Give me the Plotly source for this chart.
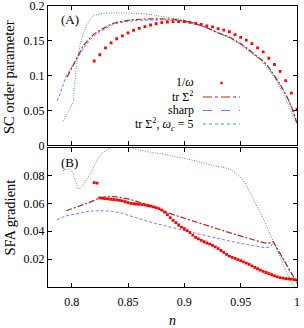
import plotly.graph_objects as go
from plotly.subplots import make_subplots

# ---------------- data: panel A (SC order parameter) ----------------
nA_inv = [0.820, 0.825, 0.830, 0.835, 0.840, 0.845, 0.850, 0.855, 0.860, 0.865,
          0.870, 0.875, 0.880, 0.885, 0.890, 0.895, 0.900, 0.905, 0.910, 0.915,
          0.920, 0.925, 0.930, 0.935, 0.940, 0.945, 0.950, 0.955, 0.960, 0.965,
          0.970, 0.975, 0.980, 0.985, 0.990, 0.995, 1.000]
sc_inv = [0.121, 0.130, 0.140, 0.147, 0.153, 0.157, 0.1615, 0.165, 0.168, 0.1705,
          0.1727, 0.1745, 0.176, 0.177, 0.1775, 0.1777, 0.1775, 0.1765, 0.175, 0.1735,
          0.1715, 0.170, 0.1675, 0.1655, 0.163, 0.159, 0.155, 0.151, 0.146, 0.140,
          0.134, 0.125, 0.116, 0.106, 0.093, 0.075, 0.052]

nA_tr = [0.796, 0.800, 0.805, 0.810, 0.815, 0.820, 0.825, 0.830, 0.835, 0.840,
         0.845, 0.850, 0.855, 0.860, 0.870, 0.880, 0.890, 0.900, 0.910, 0.920,
         0.925, 0.930, 0.940, 0.950, 0.955, 0.960, 0.970, 0.975, 0.980, 0.985,
         0.990, 0.995, 1.000]
sc_tr = [0.098, 0.111, 0.128, 0.142, 0.152, 0.160, 0.165, 0.170, 0.174, 0.1765,
         0.1785, 0.1795, 0.1805, 0.181, 0.1815, 0.1815, 0.181, 0.1785, 0.1745, 0.169,
         0.165, 0.1615, 0.1555, 0.146, 0.140, 0.134, 0.121, 0.112, 0.1005, 0.0875,
         0.0735, 0.056, 0.032]

nA_sharp = [0.787, 0.790, 0.795, 0.800, 0.805, 0.810, 0.815, 0.820, 0.825, 0.830,
            0.835, 0.840, 0.850, 0.860, 0.870, 0.880, 0.890, 0.900, 0.910, 0.920,
            0.930, 0.940, 0.950, 0.960, 0.970, 0.975, 0.980, 0.985, 0.990, 0.995,
            1.000]
sc_sharp = [0.064, 0.075, 0.099, 0.112, 0.125, 0.138, 0.149, 0.157, 0.163, 0.168,
            0.172, 0.175, 0.178, 0.1795, 0.180, 0.180, 0.1795, 0.1778, 0.174, 0.1685,
            0.1612, 0.1548, 0.1452, 0.1332, 0.120, 0.111, 0.0995, 0.0865, 0.0725, 0.055,
            0.031]

nA_wc5 = [0.7923, 0.797, 0.8005, 0.8015, 0.8025, 0.804, 0.806, 0.808, 0.811, 0.814,
          0.817, 0.820, 0.825, 0.832, 0.850, 0.870, 0.880, 0.890, 0.900, 0.910,
          0.920, 0.930, 0.940, 0.950, 0.960, 0.970, 0.980, 0.985, 0.990, 0.995,
          1.000]
sc_wc5 = [0.0345, 0.048, 0.058, 0.062, 0.085, 0.110, 0.132, 0.148, 0.163, 0.175,
          0.182, 0.187, 0.189, 0.190, 0.190, 0.188, 0.185, 0.182, 0.180, 0.175,
          0.169, 0.1615, 0.154, 0.1445, 0.132, 0.118, 0.097, 0.083, 0.067, 0.048,
          0.030]

# ---------------- data: panel B (SFA gradient) ----------------
nB_inv = [0.8200, 0.8225,
          0.8250, 0.8275, 0.8300, 0.8325, 0.8350, 0.8375, 0.8400, 0.8425, 0.8450, 0.8475,
          0.8500, 0.8525, 0.8550, 0.8575, 0.8600, 0.8625, 0.8650, 0.8675, 0.8700, 0.8725,
          0.8750, 0.8775, 0.8800, 0.8825, 0.8850, 0.8875, 0.8900, 0.8925, 0.8950, 0.8975,
          0.9000, 0.9025, 0.9050, 0.9075, 0.9100, 0.9125, 0.9150, 0.9175, 0.9200, 0.9225,
          0.9250, 0.9275, 0.9300, 0.9325, 0.9350, 0.9375, 0.9400, 0.9425, 0.9450, 0.9475,
          0.9500, 0.9525, 0.9550, 0.9575, 0.9600, 0.9625, 0.9650, 0.9675, 0.9700, 0.9725,
          0.9750, 0.9775, 0.9800, 0.9825, 0.9850, 0.9875, 0.9900, 0.9925, 0.9950, 0.9975,
          1.0000]
gr_inv = [0.0750, 0.0745,
          0.0640, 0.0636, 0.0634, 0.0632, 0.0630, 0.0628, 0.0626, 0.0622, 0.0618, 0.0612,
          0.0605, 0.0601, 0.0598, 0.0596, 0.0594, 0.0592, 0.0589, 0.0585, 0.0580, 0.0575,
          0.0570, 0.0562, 0.0552, 0.0538, 0.0520, 0.0498, 0.0478, 0.0462, 0.0445, 0.0430,
          0.0418, 0.0405, 0.0390, 0.0372, 0.0356, 0.0345, 0.0335, 0.0325, 0.0316, 0.0308,
          0.0299, 0.0288, 0.0276, 0.0262, 0.0248, 0.0234, 0.0222, 0.0213, 0.0205, 0.0197,
          0.0189, 0.0180, 0.0172, 0.0162, 0.0152, 0.0141, 0.0131, 0.0121, 0.0112, 0.0104,
          0.0096, 0.0088, 0.0080, 0.0073, 0.0067, 0.0063, 0.0060, 0.0058, 0.0056, 0.0053,
          0.0050]

nB_tr = [0.7952, 0.800, 0.805, 0.810, 0.815, 0.820, 0.825, 0.830, 0.835, 0.840,
         0.845, 0.850, 0.855, 0.860, 0.865, 0.870, 0.875, 0.880, 0.885, 0.890,
         0.895, 0.900, 0.905, 0.910, 0.915, 0.920, 0.925, 0.930, 0.935, 0.940,
         0.945, 0.950, 0.955, 0.960, 0.965, 0.970, 0.974, 0.977, 0.979, 0.985,
         0.990, 0.995, 1.000]
gr_tr = [0.0547, 0.0560, 0.0573, 0.0588, 0.0605, 0.0622, 0.0640, 0.0647, 0.0650, 0.0647,
         0.0642, 0.0632, 0.0622, 0.0610, 0.0598, 0.0583, 0.0568, 0.0550, 0.0535, 0.0520,
         0.0506, 0.0493, 0.0480, 0.0468, 0.0455, 0.0442, 0.0428, 0.0416, 0.0404, 0.0390,
         0.0378, 0.0366, 0.0354, 0.0341, 0.0329, 0.0318, 0.0313, 0.0318, 0.0325, 0.0240,
         0.0170, 0.0095, 0.0030]

nB_sharp = [0.787, 0.790, 0.795, 0.800, 0.805, 0.810, 0.815, 0.820, 0.825, 0.830,
            0.835, 0.840, 0.845, 0.850, 0.855, 0.860, 0.865, 0.870, 0.875, 0.880,
            0.885, 0.890, 0.895, 0.900, 0.905, 0.910, 0.920, 0.930, 0.940, 0.950,
            0.960, 0.965, 0.970, 0.976, 0.979, 0.985, 0.990, 0.995, 1.000]
gr_sharp = [0.0482, 0.0495, 0.0510, 0.0518, 0.0528, 0.0537, 0.0543, 0.0547, 0.0548, 0.0547,
            0.0544, 0.0538, 0.0530, 0.0515, 0.0502, 0.0488, 0.0477, 0.0466, 0.0455, 0.0446,
            0.0436, 0.0426, 0.0416, 0.0406, 0.0396, 0.0386, 0.0366, 0.0348, 0.0330, 0.0313,
            0.0297, 0.0290, 0.0284, 0.0285, 0.0320, 0.0235, 0.0165, 0.0090, 0.0025]

nB_wc5 = [0.7923, 0.7967, 0.799, 0.801, 0.803, 0.8055, 0.808, 0.810, 0.813, 0.817,
          0.820, 0.8232, 0.827, 0.832, 0.838, 0.845, 0.852, 0.857, 0.865, 0.871,
          0.881, 0.890, 0.900, 0.910, 0.920, 0.926, 0.933, 0.940, 0.945, 0.9513,
          0.955, 0.960, 0.965, 0.969, 0.974, 0.978, 0.982, 0.9867, 0.991, 0.9955,
          0.998]
gr_wc5 = [0.0835, 0.0847, 0.0845, 0.0820, 0.0770, 0.0707, 0.0710, 0.0727, 0.0770, 0.0820,
          0.0870, 0.0920, 0.0960, 0.0990, 0.1005, 0.1010, 0.1003, 0.0990, 0.0975, 0.0965,
          0.0955, 0.0940, 0.0925, 0.0906, 0.0885, 0.0870, 0.0862, 0.0847, 0.0820, 0.0775,
          0.0730, 0.0655, 0.0580, 0.0510, 0.0420, 0.0343, 0.0265, 0.0175, 0.0100, 0.0030,
          0.0000]

x_ticks = [0.8, 0.85, 0.9, 0.95, 1.0]
x_ticktext = ["0.8", "0.85", "0.9", "0.95", "1"]
yA_ticks = [0, 0.05, 0.1, 0.15, 0.2]
yA_ticktext = ["0", "0.05", "0.1", "0.15", "0.2"]
yB_ticks = [0.02, 0.04, 0.06, 0.08]
yB_ticktext = ["0.02", "0.04", "0.06", "0.08"]
legend_labels = ["1/<i>ω</i>", "tr Σ<sup>2</sup>", "sharp",
                 "tr Σ<sup>2</sup>, <i>ω</i><sub><i>c</i></sub> = 5"]

# ---------------- styling ----------------
RED = "#ff0000"
BROWN = "#a52a2a"
BLUE = "#7a7aff"
GREEN = "#4aa84a"
FONT = "Liberation Serif"
W, H = 304, 328
L, R, T, B = 48, 7, 6, 41
PW, PH = W - L - R, H - T - B


def px(x):
    return (x - L) / PW


def py(y):
    return (H - B - y) / PH


fig = make_subplots(rows=2, cols=1, shared_xaxes=False, vertical_spacing=0.0)

dash_tr = "6px,2px,2px,2px"
dash_sh = "3px,2px"
dash_wc = "1px,1.5px"
MS = 2.8

# panel A
fig.add_trace(go.Scatter(x=nA_wc5, y=sc_wc5, mode="lines",
                         line=dict(color=GREEN, width=1, dash=dash_wc)), row=1, col=1)
fig.add_trace(go.Scatter(x=nA_sharp, y=sc_sharp, mode="lines",
                         line=dict(color=BLUE, width=1, dash=dash_sh)), row=1, col=1)
fig.add_trace(go.Scatter(x=nA_tr, y=sc_tr, mode="lines",
                         line=dict(color=BROWN, width=1.2, dash=dash_tr)), row=1, col=1)
fig.add_trace(go.Scatter(x=nA_inv, y=sc_inv, mode="markers",
                         marker=dict(color=RED, size=MS, symbol="square", line=dict(width=0))),
              row=1, col=1)
# panel B
fig.add_trace(go.Scatter(x=nB_wc5, y=gr_wc5, mode="lines",
                         line=dict(color=GREEN, width=1, dash=dash_wc)), row=2, col=1)
fig.add_trace(go.Scatter(x=nB_sharp, y=gr_sharp, mode="lines",
                         line=dict(color=BLUE, width=1, dash=dash_sh)), row=2, col=1)
fig.add_trace(go.Scatter(x=nB_tr, y=gr_tr, mode="lines",
                         line=dict(color=BROWN, width=1.2, dash=dash_tr)), row=2, col=1)
fig.add_trace(go.Scatter(x=nB_inv, y=gr_inv, mode="markers",
                         marker=dict(color=RED, size=MS, symbol="square", line=dict(width=0))),
              row=2, col=1)

ax_common = dict(showline=True, linecolor="black", linewidth=1, mirror="ticks",
                 ticks="inside", ticklen=4, tickcolor="black", showgrid=False,
                 zeroline=False, automargin=False, ticklabeloverflow="allow",
                 tickfont=dict(family=FONT, size=12, color="black"))

fig.update_xaxes(range=[0.779, 1.0], tickvals=x_ticks, ticktext=x_ticktext, **ax_common)
fig.update_xaxes(showticklabels=False, row=1, col=1)
fig.update_xaxes(ticklabelstandoff=4, row=2, col=1)
fig.update_yaxes(**ax_common)
fig.update_yaxes(range=[0, 0.2], tickvals=yA_ticks, ticktext=yA_ticktext, row=1, col=1)
fig.update_yaxes(range=[0, 0.1], tickvals=yB_ticks, ticktext=yB_ticktext, row=2, col=1)

fig.update_layout(
    yaxis=dict(domain=[py(145.3), 1.0]),
    yaxis2=dict(domain=[0.0, py(147.7)]),
    xaxis=dict(domain=[0, 1]), xaxis2=dict(domain=[0, 1]),
)


def note(x, y, text, size=13, angle=0, xanchor="center"):
    return dict(x=px(x), y=py(y), xref="paper", yref="paper", text=text,
                textangle=angle, showarrow=False, xanchor=xanchor, yanchor="middle",
                font=dict(family=FONT, size=size, color="black"))


ann = [
    note(9, 77, "SC order parameter", size=14.5, angle=-90),
    note(9, 217.5, "SFA gradient", size=14.5, angle=-90),
    note(172.5, 320, "<i>n</i>", size=14),
    note(69.5, 20, "(A)"),
    note(69.5, 162, "(B)"),
]

# legend (text on the left, sample on the right)
rows_y = [82.5, 96.5, 110.5, 124]
for lab, yy in zip(legend_labels, rows_y):
    ann.append(note(196, yy, lab, size=12, xanchor="right"))

shapes = []
shapes.append(dict(type="rect", xref="paper", yref="paper",
                   x0=px(220.3), x1=px(222.7), y0=py(84.2), y1=py(81.8),
                   fillcolor=RED, line=dict(width=0)))
for col, dsh, wd, yy in [(BROWN, "dashdot", 1.2, 97), (BLUE, "dash", 1, 110.5),
                         (GREEN, "dot", 1, 124)]:
    shapes.append(dict(type="line", xref="paper", yref="paper",
                       x0=px(203), x1=px(240), y0=py(yy), y1=py(yy),
                       line=dict(color=col, width=wd, dash=dsh)))

fig.update_layout(
    width=W, height=H,
    margin=dict(l=L, r=R, t=T, b=B, autoexpand=False),
    paper_bgcolor="white", plot_bgcolor="white",
    showlegend=False,
    annotations=ann, shapes=shapes,
    font=dict(family=FONT, color="black"),
)

fig.write_html("out.html", config={"displayModeBar": False},
               post_script="document.body.style.margin='0';document.body.style.overflow='hidden';")
